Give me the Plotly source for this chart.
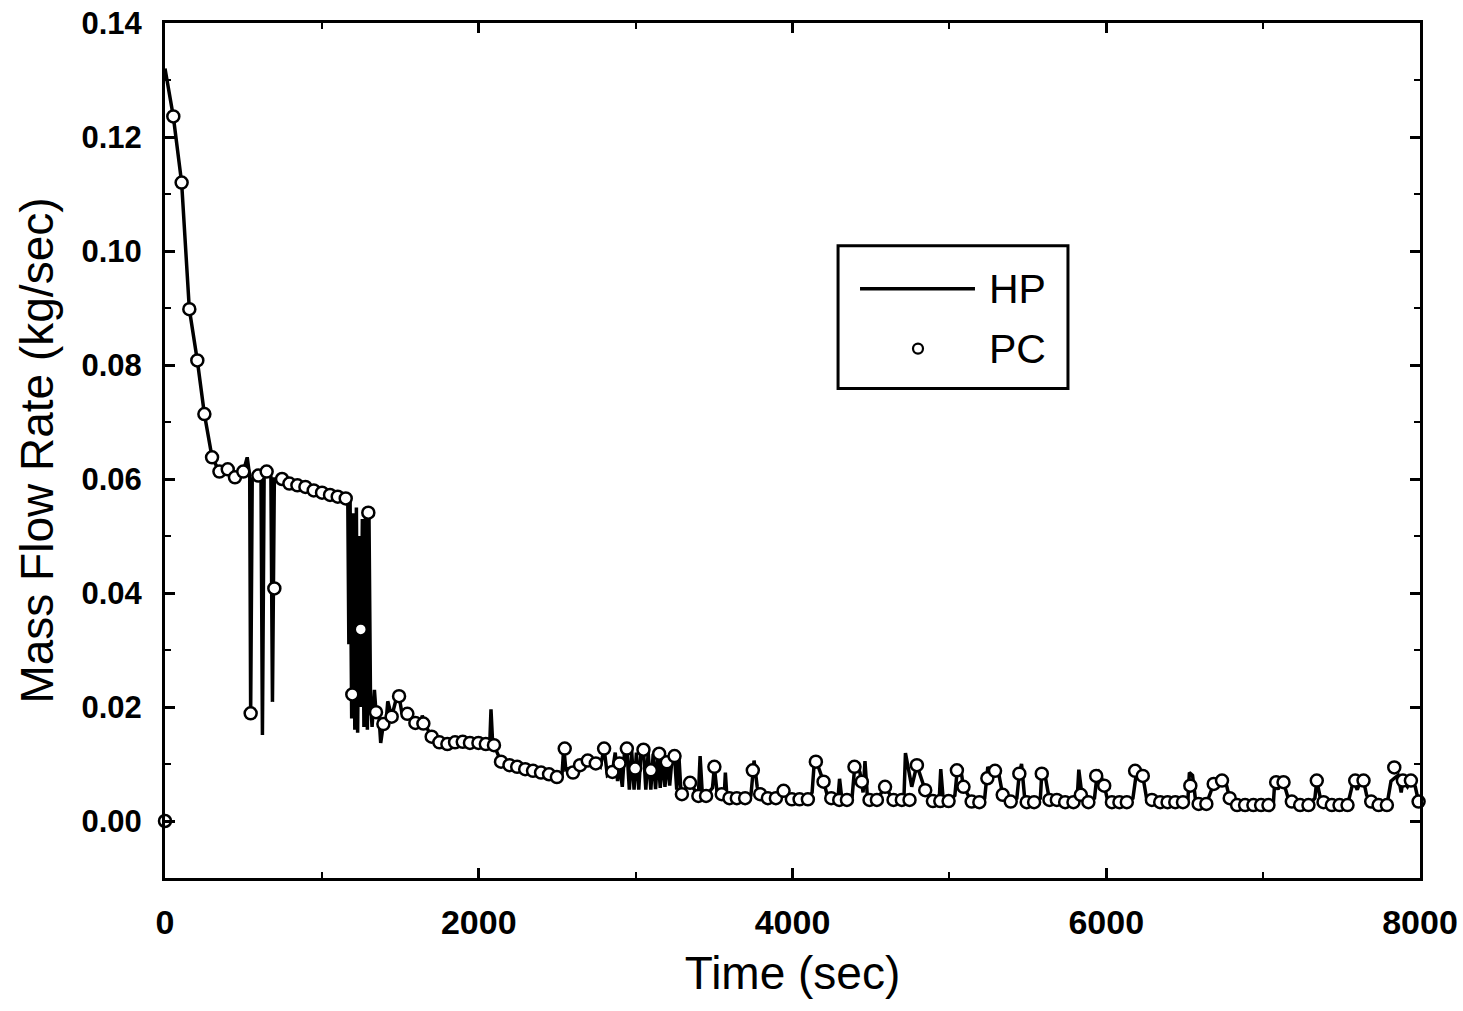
import plotly.graph_objects as go

# PC (open circle markers)
pc_t = [0, 53, 106, 155, 206, 251, 300, 347, 400, 446, 499, 546, 595, 648, 697, 746, 793, 844, 895, 948,
        1001, 1052, 1101, 1152, 1194, 1248, 1296, 1345, 1392, 1445, 1492, 1545, 1596, 1647, 1700, 1749,
        1800, 1849, 1898, 1944, 1998, 2045, 2097, 2142, 2196, 2245, 2296, 2346, 2397, 2448, 2498, 2548,
        2601, 2646, 2695, 2746, 2799, 2852, 2897, 2944, 2997, 3050, 3097, 3150, 3199, 3248, 3295, 3347,
        3400, 3449, 3502, 3549, 3598, 3645, 3698, 3747, 3794, 3843, 3894, 3943, 3996, 4045, 4098, 4149,
        4198, 4247, 4298, 4347, 4395, 4442, 4491, 4538, 4590, 4644, 4697, 4746, 4793, 4846, 4895, 4942,
        4995, 5048, 5090, 5142, 5191, 5242, 5291, 5340, 5391, 5446, 5493, 5540, 5589, 5638, 5685, 5738,
        5791, 5838, 5886, 5936, 5987, 6036, 6084, 6131, 6184, 6233, 6291, 6344, 6391, 6440, 6489, 6536,
        6589, 6638, 6685, 6738, 6787, 6834, 6885, 6938, 6987, 7034, 7083, 7130, 7183, 7236, 7289, 7342,
        7385, 7438, 7487, 7538, 7587, 7640, 7689, 7736, 7789, 7836, 7891, 7942, 7991]
pc_v = [0.0, 0.1236, 0.1120, 0.0898, 0.0808, 0.0714, 0.0638, 0.0613, 0.0617, 0.0603, 0.0613, 0.0189,
        0.0606, 0.0613, 0.0408, 0.0600, 0.0592, 0.0589, 0.0586, 0.0580, 0.0576, 0.0572, 0.0569, 0.0566,
        0.0222, 0.0336, 0.0541, 0.0191, 0.0170, 0.0183, 0.0219, 0.0188, 0.0172, 0.0171, 0.0148, 0.0138,
        0.0135, 0.0138, 0.0139, 0.0137, 0.0137, 0.0135, 0.0133, 0.0104, 0.0098, 0.0095, 0.0091, 0.0088,
        0.0085, 0.0082, 0.0077, 0.0127, 0.0085, 0.0098, 0.0106, 0.0101, 0.0127, 0.0086, 0.0101, 0.0127,
        0.0092, 0.0125, 0.0089, 0.0118, 0.0103, 0.0114, 0.0047, 0.0067, 0.0044, 0.0044, 0.0095, 0.0047,
        0.0040, 0.0040, 0.0040, 0.0089, 0.0047, 0.0040, 0.0040, 0.0053, 0.0038, 0.0038, 0.0038, 0.0104,
        0.0069, 0.0040, 0.0037, 0.0037, 0.0095, 0.0069, 0.0037, 0.0037, 0.0060, 0.0037, 0.0037, 0.0037,
        0.0098, 0.0054, 0.0035, 0.0035, 0.0035, 0.0089, 0.0060, 0.0034, 0.0033, 0.0075, 0.0088, 0.0046,
        0.0034, 0.0083, 0.0033, 0.0033, 0.0083, 0.0037, 0.0037, 0.0033, 0.0033, 0.0046, 0.0033, 0.0079,
        0.0062, 0.0033, 0.0033, 0.0033, 0.0088, 0.0079, 0.0037, 0.0033, 0.0033, 0.0033, 0.0033, 0.0062,
        0.0030, 0.0030, 0.0065, 0.0071, 0.0040, 0.0028, 0.0028, 0.0028, 0.0028, 0.0028, 0.0068, 0.0068,
        0.0034, 0.0028, 0.0028, 0.0071, 0.0033, 0.0028, 0.0028, 0.0028, 0.0071, 0.0071, 0.0034, 0.0028,
        0.0028, 0.0094, 0.0071, 0.0071, 0.0034]

# HP (solid line)
hp_t = [0, 53, 106, 155, 206, 251, 300, 347, 400, 446, 499, 524, 540, 546, 556, 595, 612, 621, 632, 648,
        675, 685, 697, 746, 793, 844, 895, 948, 1001, 1052, 1101, 1152, 1165, 1172, 1180, 1190, 1200,
        1210, 1220, 1228, 1238, 1248, 1258, 1268, 1278, 1290, 1300, 1310, 1320, 1335, 1345, 1360, 1375,
        1392, 1410, 1420, 1445, 1470, 1492, 1510, 1545, 1570, 1596, 1630, 1640, 1660, 1700, 1749, 1800,
        1849, 1898, 1944, 1998, 2045, 2070, 2078, 2088, 2097, 2142, 2196, 2245, 2296, 2346, 2397, 2448,
        2498, 2530, 2542, 2555, 2575, 2601, 2646, 2695, 2746, 2775, 2799, 2820, 2852, 2870, 2885, 2897,
        2915, 2930, 2944, 2960, 2975, 2990, 3005, 3020, 3035, 3050, 3065, 3080, 3097, 3112, 3127, 3142,
        3157, 3172, 3187, 3202, 3217, 3232, 3248, 3262, 3275, 3290, 3347, 3400, 3411, 3425, 3449, 3490,
        3502, 3520, 3549, 3565, 3572, 3582, 3645, 3698, 3735, 3755, 3775, 3794, 3843, 3894, 3943, 3996,
        4098, 4125, 4140, 4165, 4198, 4225, 4247, 4290, 4300, 4315, 4347, 4380, 4400, 4430, 4450, 4462,
        4478, 4538, 4590, 4644, 4710, 4720, 4740, 4760, 4793, 4846, 4895, 4935, 4945, 4960, 4995, 5035,
        5050, 5070, 5090, 5142, 5191, 5225, 5245, 5270, 5291, 5310, 5340, 5391, 5430, 5446, 5460, 5480,
        5540, 5580, 5589, 5610, 5638, 5685, 5738, 5791, 5815, 5825, 5845, 5886, 5925, 5945, 5965, 5987,
        6010, 6036, 6131, 6170, 6195, 6215, 6233, 6260, 6291, 6489, 6520, 6530, 6550, 6570, 6638, 6685,
        6710, 6738, 6760, 6787, 6834, 7034, 7065, 7075, 7095, 7110, 7130, 7160, 7183, 7289, 7330, 7342,
        7365, 7385, 7538, 7575, 7600, 7625, 7640, 7660, 7689, 7789, 7815, 7836, 7860, 7880, 7891, 7920,
        7942, 7970, 7991]
hp_v = [0.1320, 0.1236, 0.1120, 0.0898, 0.0808, 0.0714, 0.0638, 0.0613, 0.0617, 0.0603, 0.0613, 0.0638,
        0.0605, 0.0189, 0.0600, 0.0606, 0.0600, 0.0151, 0.0612, 0.0613, 0.0604, 0.0209, 0.0600, 0.0600,
        0.0592, 0.0589, 0.0586, 0.0580, 0.0576, 0.0572, 0.0569, 0.0566, 0.0570, 0.0310, 0.0560, 0.0180,
        0.0540, 0.0160, 0.0550, 0.0155, 0.0500, 0.0200, 0.0530, 0.0165, 0.0540, 0.0160, 0.0545, 0.0210,
        0.0165, 0.0230, 0.0191, 0.0200, 0.0137, 0.0170, 0.0175, 0.0210, 0.0183, 0.0210, 0.0219, 0.0190,
        0.0188, 0.0178, 0.0172, 0.0170, 0.0185, 0.0168, 0.0148, 0.0138, 0.0135, 0.0138, 0.0139, 0.0137,
        0.0137, 0.0135, 0.0134, 0.0196, 0.0140, 0.0133, 0.0104, 0.0098, 0.0095, 0.0091, 0.0088, 0.0085,
        0.0082, 0.0077, 0.0078, 0.0130, 0.0090, 0.0092, 0.0085, 0.0098, 0.0106, 0.0101, 0.0095, 0.0127,
        0.0080, 0.0086, 0.0120, 0.0070, 0.0101, 0.0060, 0.0125, 0.0127, 0.0055, 0.0122, 0.0055, 0.0120,
        0.0055, 0.0125, 0.0125, 0.0055, 0.0120, 0.0055, 0.0118, 0.0056, 0.0118, 0.0058, 0.0112, 0.0060,
        0.0110, 0.0062, 0.0110, 0.0114, 0.0055, 0.0118, 0.0047, 0.0067, 0.0044, 0.0114, 0.0048, 0.0044,
        0.0058, 0.0095, 0.0048, 0.0047, 0.0045, 0.0085, 0.0042, 0.0040, 0.0040, 0.0045, 0.0106, 0.0060,
        0.0047, 0.0040, 0.0040, 0.0053, 0.0038, 0.0038, 0.0050, 0.0108, 0.0095, 0.0069, 0.0042, 0.0040,
        0.0040, 0.0074, 0.0038, 0.0037, 0.0042, 0.0106, 0.0085, 0.0050, 0.0105, 0.0040, 0.0037, 0.0060,
        0.0037, 0.0037, 0.0119, 0.0090, 0.0060, 0.0098, 0.0054, 0.0035, 0.0036, 0.0091, 0.0040, 0.0035,
        0.0045, 0.0089, 0.0095, 0.0060, 0.0034, 0.0033, 0.0040, 0.0095, 0.0080, 0.0080, 0.0090, 0.0046,
        0.0034, 0.0040, 0.0083, 0.0100, 0.0040, 0.0033, 0.0040, 0.0083, 0.0080, 0.0037, 0.0037, 0.0033,
        0.0033, 0.0040, 0.0090, 0.0046, 0.0033, 0.0040, 0.0090, 0.0080, 0.0062, 0.0035, 0.0033, 0.0033,
        0.0040, 0.0090, 0.0085, 0.0079, 0.0035, 0.0037, 0.0033, 0.0035, 0.0085, 0.0080, 0.0035, 0.0030,
        0.0065, 0.0075, 0.0071, 0.0070, 0.0040, 0.0028, 0.0028, 0.0030, 0.0072, 0.0055, 0.0072, 0.0068,
        0.0040, 0.0034, 0.0028, 0.0040, 0.0071, 0.0040, 0.0033, 0.0028, 0.0070, 0.0055, 0.0072, 0.0071,
        0.0045, 0.0034, 0.0028, 0.0070, 0.0075, 0.0080, 0.0050, 0.0071, 0.0060, 0.0071, 0.0060, 0.0034]

x_ticks = [0, 2000, 4000, 6000, 8000]
y_ticks = [0.00, 0.02, 0.04, 0.06, 0.08, 0.10, 0.12, 0.14]
y_tick_text = ["0.00", "0.02", "0.04", "0.06", "0.08", "0.10", "0.12", "0.14"]

fig = go.Figure()
fig.add_trace(go.Scatter(x=hp_t, y=hp_v, mode="lines", name="HP",
                         line=dict(color="black", width=3.5), showlegend=False, cliponaxis=False))
fig.add_trace(go.Scatter(x=pc_t, y=pc_v, mode="markers", name="PC",
                         marker=dict(symbol="circle", size=12, color="white",
                                     line=dict(color="black", width=2.5)),
                         showlegend=False, cliponaxis=False))

# Legend box drawn manually (paper coords)
fig.add_shape(type="rect", xref="paper", yref="paper", x0=0.5363, x1=0.7195, y0=0.5724, y1=0.7395,
              line=dict(color="black", width=3), fillcolor="white", layer="above")
fig.add_shape(type="line", xref="paper", yref="paper", x0=0.5538, x1=0.6454, y0=0.6893, y1=0.6893,
              line=dict(color="black", width=3.5), layer="above")
fig.add_shape(type="circle", xref="paper", yref="paper", xsizemode="pixel", ysizemode="pixel",
              xanchor=0.600, yanchor=0.6192, x0=-5, x1=5, y0=-5, y1=5,
              line=dict(color="black", width=2.2), fillcolor="white", layer="above")
fig.add_annotation(xref="paper", yref="paper", x=0.655, y=0.6893, text="HP", showarrow=False,
                   xanchor="left", yanchor="middle", font=dict(family="Liberation Sans", size=41, color="black"))
fig.add_annotation(xref="paper", yref="paper", x=0.655, y=0.6192, text="PC", showarrow=False,
                   xanchor="left", yanchor="middle", font=dict(family="Liberation Sans", size=41, color="black"))

axis_common = dict(showgrid=False, zeroline=False, showline=True, linecolor="black", linewidth=3,
                   mirror="allticks", ticks="inside", tickcolor="black", tickwidth=2.5, ticklen=10,
                   automargin=False, ticklabeloverflow="allow")

fig.update_xaxes(range=[0, 8000], tickvals=x_ticks, **axis_common,
                 minor=dict(dtick=1000, ticks="inside", ticklen=6, tickwidth=2, tickcolor="black"),
                 tickfont=dict(family="Liberation Sans", size=34, color="black", weight="bold"),
                 ticklabelstandoff=12,
                 title=dict(text="Time (sec)", font=dict(family="Liberation Sans", size=46, color="black"),
                            standoff=18))
fig.update_yaxes(range=[-0.01, 0.14], tickvals=y_ticks, ticktext=y_tick_text, **axis_common,
                 minor=dict(dtick=0.01, tick0=0, ticks="inside", ticklen=6, tickwidth=2, tickcolor="black"),
                 tickfont=dict(family="Liberation Sans", size=31, color="black", weight="bold"),
                 ticklabelstandoff=14,
                 title=dict(text="Mass Flow Rate (kg/sec)",
                            font=dict(family="Liberation Sans", size=46, color="black"), standoff=14))

fig.update_layout(width=1463, height=1011, margin=dict(l=165, r=43, t=23, b=133),
                  plot_bgcolor="white", paper_bgcolor="white", showlegend=False)

fig.write_html("out.html")
